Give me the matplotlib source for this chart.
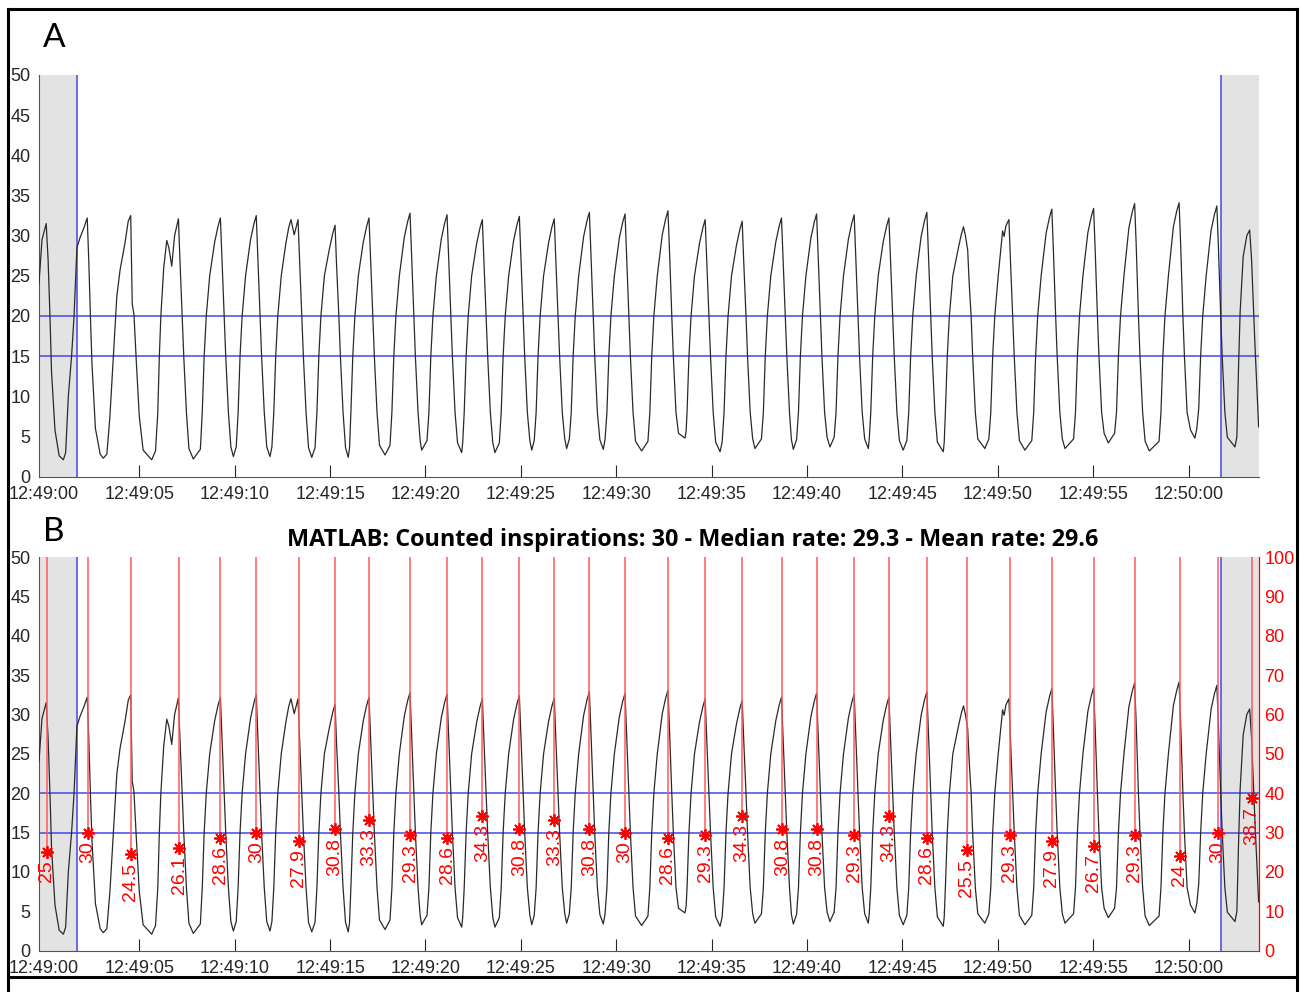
import matplotlib
matplotlib.use("Agg")
import matplotlib.pyplot as plt
from matplotlib.lines import Line2D
from matplotlib.ticker import FuncFormatter

# breathing trace, time in seconds after 12:49:00, one line per breath
trace_t = [
    -0.26, -0.10, 0.12, 0.22, 0.33, 0.40, 0.58, 0.80, 1.02,
    1.14, 1.28, 1.45, 1.58, 1.73, 1.90, 2.10, 2.27, 2.35, 2.45, 2.52, 2.70, 2.95, 3.11,
    3.30, 3.46, 3.64, 3.82, 3.99, 4.25, 4.42, 4.55, 4.63, 4.72, 4.85, 5.00, 5.20, 5.65,
    5.85, 5.97, 6.05, 6.13, 6.28, 6.44, 6.55, 6.70, 6.85, 7.05, 7.13, 7.25, 7.33, 7.47, 7.60, 7.83,
    8.20, 8.30, 8.40, 8.51, 8.69, 8.95, 9.13, 9.25, 9.33, 9.45, 9.53, 9.67, 9.80, 9.93,
    10.08, 10.18, 10.28, 10.39, 10.57, 10.83, 11.01, 11.13, 11.21, 11.33, 11.41, 11.55, 11.68, 11.85,
    11.95, 12.05, 12.15, 12.26, 12.44, 12.68, 12.83, 12.95, 13.12, 13.32, 13.40, 13.52, 13.60, 13.74, 13.87, 14.04,
    14.21, 14.31, 14.41, 14.52, 14.70, 14.96, 15.14, 15.26, 15.34, 15.46, 15.54, 15.68, 15.81, 15.95,
    16.02, 16.09, 16.19, 16.30, 16.48, 16.74, 16.92, 17.04, 17.12, 17.24, 17.32, 17.46, 17.59, 17.88,
    18.14, 18.24, 18.34, 18.45, 18.63, 18.89, 19.07, 19.19, 19.27, 19.39, 19.47, 19.61, 19.72, 19.80,
    20.08, 20.18, 20.28, 20.39, 20.57, 20.83, 21.01, 21.13, 21.21, 21.33, 21.41, 21.55, 21.68, 21.90,
    21.95, 22.03, 22.13, 22.24, 22.42, 22.68, 22.86, 22.98, 23.06, 23.18, 23.26, 23.40, 23.53, 23.64,
    23.87, 23.97, 24.07, 24.18, 24.36, 24.62, 24.80, 24.92, 25.00, 25.12, 25.20, 25.34, 25.47, 25.57,
    25.70, 25.80, 25.90, 26.01, 26.19, 26.45, 26.63, 26.75, 26.83, 26.95, 27.03, 27.17, 27.30, 27.40,
    27.54, 27.64, 27.74, 27.85, 28.03, 28.29, 28.47, 28.59, 28.67, 28.79, 28.87, 29.01, 29.14, 29.32,
    29.41, 29.51, 29.61, 29.72, 29.90, 30.16, 30.34, 30.46, 30.54, 30.66, 30.74, 30.88, 31.01, 31.33,
    31.66, 31.76, 31.86, 31.97, 32.15, 32.41, 32.59, 32.71, 32.79, 32.91, 32.99, 33.13, 33.26, 33.60,
    33.66, 33.71, 33.81, 33.92, 34.10, 34.36, 34.54, 34.66, 34.74, 34.86, 34.94, 35.08, 35.21, 35.44,
    35.55, 35.65, 35.75, 35.86, 36.04, 36.30, 36.48, 36.60, 36.68, 36.80, 36.88, 37.02, 37.15, 37.27,
    37.61, 37.71, 37.81, 37.92, 38.10, 38.36, 38.54, 38.66, 38.74, 38.86, 38.94, 39.08, 39.18, 39.28,
    39.45, 39.55, 39.65, 39.76, 39.94, 40.20, 40.38, 40.50, 40.58, 40.70, 40.78, 40.92, 41.05, 41.20,
    41.42, 41.52, 41.62, 41.73, 41.91, 42.17, 42.35, 42.47, 42.55, 42.67, 42.75, 42.89, 43.02, 43.21,
    43.26, 43.34, 43.44, 43.55, 43.73, 43.99, 44.17, 44.29, 44.37, 44.49, 44.57, 44.71, 44.84, 45.04,
    45.23, 45.33, 45.43, 45.54, 45.72, 45.98, 46.16, 46.28, 46.36, 46.48, 46.56, 46.70, 46.83, 47.14,
    47.19, 47.25, 47.35, 47.46, 47.64, 47.90, 48.08, 48.20, 48.30, 48.42, 48.50, 48.60, 48.68, 48.82, 48.95, 49.32,
    49.53, 49.63, 49.73, 49.84, 50.02, 50.25, 50.33, 50.42, 50.58, 50.66, 50.78, 50.86, 51.00, 51.13, 51.42,
    51.78, 51.88, 51.98, 52.09, 52.27, 52.53, 52.71, 52.83, 52.91, 53.03, 53.11, 53.25, 53.38, 53.52,
    53.97, 54.07, 54.17, 54.28, 54.46, 54.72, 54.90, 55.02, 55.10, 55.22, 55.30, 55.44, 55.57, 55.79,
    56.12, 56.22, 56.32, 56.43, 56.61, 56.87, 57.05, 57.17, 57.25, 57.37, 57.45, 57.59, 57.72, 57.94,
    58.45, 58.55, 58.65, 58.76, 58.94, 59.20, 59.38, 59.50, 59.58, 59.70, 59.78, 59.92, 60.10, 60.33,
    60.43, 60.53, 60.63, 60.74, 60.92, 61.18, 61.36, 61.48, 61.56, 61.68, 61.76, 61.90, 62.03, 62.43,
    62.53, 62.62, 62.70, 62.86, 63.05, 63.20, 63.30, 63.48, 63.67,
]
trace_v = [
    24.0, 29.5, 31.5, 27.0, 19.0, 13.0, 5.8, 2.6, 2.1,
    3.0, 10.0, 15.0, 20.0, 28.5, 29.8, 31.0, 32.2, 27.0, 19.0, 14.0, 6.0, 2.8, 2.3,
    2.8, 7.5, 15.0, 22.4, 25.7, 29.1, 31.8, 32.5, 21.5, 20.2, 14.0, 7.5, 3.3, 2.1,
    3.2, 8.0, 15.0, 20.0, 26.0, 29.4, 28.5, 26.2, 30.0, 32.1, 27.0, 20.0, 15.0, 8.0, 3.5, 2.2,
    3.4, 8.0, 15.0, 20.0, 25.0, 29.2, 31.2, 32.2, 27.2, 20.0, 15.0, 8.0, 3.7, 2.5,
    3.7, 8.0, 15.0, 20.0, 25.0, 29.5, 31.5, 32.5, 27.5, 20.0, 15.0, 8.0, 3.7, 2.5,
    3.7, 8.0, 15.0, 20.0, 25.0, 29.0, 31.0, 32.0, 30.1, 32.0, 27.0, 20.0, 15.0, 8.0, 3.6, 2.4,
    3.6, 8.0, 15.0, 20.0, 25.0, 28.3, 30.3, 31.3, 26.3, 20.0, 15.0, 8.0, 3.6, 2.4,
    3.6, 8.0, 15.0, 20.0, 25.0, 29.2, 31.2, 32.2, 27.2, 20.0, 15.0, 8.0, 3.9, 2.7,
    3.9, 8.0, 15.0, 20.0, 25.0, 29.8, 31.8, 32.8, 27.8, 20.0, 15.0, 8.0, 4.5, 3.3,
    4.5, 8.0, 15.0, 20.0, 25.0, 29.6, 31.6, 32.6, 27.6, 20.0, 15.0, 8.0, 4.2, 3.0,
    4.2, 8.0, 15.0, 20.0, 25.0, 29.0, 31.0, 32.0, 27.0, 20.0, 15.0, 8.0, 4.2, 3.0,
    4.2, 8.0, 15.0, 20.0, 25.0, 29.4, 31.4, 32.4, 27.4, 20.0, 15.0, 8.0, 4.5, 3.3,
    4.5, 8.0, 15.0, 20.0, 25.0, 29.1, 31.1, 32.1, 27.1, 20.0, 15.0, 8.0, 4.7, 3.5,
    4.7, 8.0, 15.0, 20.0, 25.0, 29.9, 31.9, 32.9, 27.9, 20.0, 15.0, 8.0, 4.6, 3.4,
    4.6, 8.0, 15.0, 20.0, 25.0, 29.7, 31.7, 32.7, 27.7, 20.0, 15.0, 8.0, 4.4, 3.2,
    4.4, 8.0, 15.0, 20.0, 25.0, 30.1, 32.1, 33.1, 28.1, 20.0, 15.0, 8.0, 5.4, 4.8,
    5.6, 8.0, 15.0, 20.0, 25.0, 29.0, 31.0, 32.0, 27.0, 20.0, 15.0, 8.0, 4.3, 3.1,
    4.3, 8.0, 15.0, 20.0, 25.0, 28.8, 30.8, 31.8, 26.8, 20.0, 15.0, 8.0, 4.7, 3.5,
    4.7, 8.0, 15.0, 20.0, 25.0, 29.2, 31.2, 32.2, 27.2, 20.0, 15.0, 8.0, 4.6, 3.4,
    4.6, 8.0, 15.0, 20.0, 25.0, 29.7, 31.7, 32.7, 27.7, 20.0, 15.0, 8.0, 4.9, 3.7,
    4.9, 8.0, 15.0, 20.0, 25.0, 29.6, 31.6, 32.6, 27.6, 20.0, 15.0, 8.0, 4.7, 3.5,
    4.7, 8.0, 15.0, 20.0, 25.0, 29.2, 31.2, 32.2, 27.2, 20.0, 15.0, 8.0, 4.5, 3.3,
    4.5, 8.0, 15.0, 20.0, 25.0, 29.9, 31.9, 32.9, 27.9, 20.0, 15.0, 8.0, 4.3, 3.1,
    4.3, 8.0, 15.0, 20.0, 25.0, 28.1, 30.1, 31.1, 30.0, 28.2, 24.0, 20.0, 15.0, 8.0, 4.7, 3.5,
    4.7, 8.0, 15.0, 20.0, 25.0, 30.6, 29.9, 31.2, 32.0, 27.0, 20.0, 15.0, 8.0, 4.5, 3.3,
    4.5, 8.0, 15.0, 20.0, 25.0, 30.3, 32.3, 33.3, 28.3, 20.0, 15.0, 8.0, 4.7, 3.5,
    4.7, 8.0, 15.0, 20.0, 25.0, 30.4, 32.4, 33.4, 28.4, 20.0, 15.0, 8.0, 5.4, 4.2,
    5.4, 8.0, 15.0, 20.0, 25.0, 31.0, 33.0, 34.0, 29.0, 20.0, 15.0, 8.0, 4.4, 3.2,
    4.4, 8.0, 15.0, 20.0, 25.0, 31.1, 33.1, 34.1, 29.1, 20.0, 15.0, 8.0, 5.8, 4.8,
    6.0, 8.5, 15.0, 20.0, 25.0, 30.7, 32.7, 33.7, 28.7, 20.0, 15.0, 8.0, 4.9, 3.7,
    5.0, 14.0, 20.5, 27.4, 30.0, 30.7, 27.0, 16.2, 6.2,
]
assert len(trace_t) == len(trace_v)

# detected inspirations (red lines) and breath-by-breath rate
peak_t = [0.15, 2.30, 4.55, 7.10, 9.25, 11.13, 13.35, 15.26, 17.04, 19.19,
          21.13, 22.98, 24.92, 26.75, 28.59, 30.46, 32.71, 34.66, 36.60, 38.70,
          40.50, 42.47, 44.29, 46.28, 48.38, 50.63, 52.83, 55.02, 57.17, 59.54,
          61.54, 63.31]
rates = [25, 30, 24.5, 26.1, 28.6, 30, 27.9, 30.8, 33.3, 29.3,
         28.6, 34.3, 30.8, 33.3, 30.8, 30, 28.6, 29.3, 34.3, 30.8,
         30.8, 29.3, 34.3, 28.6, 25.5, 29.3, 27.9, 26.7, 29.3, 24,
         30, 38.7]

t_start, t_end = -0.26, 63.67
win_lo, win_hi = 1.73, 61.68
thresholds = [15, 20]
x_ticks = list(range(0, 61, 5))
title_txt = "MATLAB: Counted inspirations: 30 - Median rate: 29.3 - Mean rate: 29.6"

GREY = "#e3e3e3"
BLUE = "#4646e6"
AXC = "#262626"
TICKFONT = ["Liberation Sans", "DejaVu Sans"]


def hms(x, pos=None):
    s = int(round(12 * 3600 + 49 * 60 + x))
    return "%02d:%02d:%02d" % (s // 3600, s // 60 % 60, s % 60)


def draw_panel(ax):
    ax.set_xlim(t_start, t_end)
    ax.set_ylim(0, 50)
    ax.axvspan(t_start, win_lo, color=GREY, lw=0, zorder=1.6)
    ax.axvspan(win_hi, t_end, color=GREY, lw=0, zorder=1.6)
    for y in thresholds:
        ax.axhline(y, color=BLUE, lw=1.1, zorder=2)
    for x in (win_lo, win_hi):
        ax.axvline(x, color=BLUE, lw=1.1, zorder=2)
    ax.plot(trace_t, trace_v, color="#2a2a2a", lw=0.9, zorder=3)

    ax.set_xticks(x_ticks)
    ax.xaxis.set_major_formatter(FuncFormatter(hms))
    ax.set_yticks(range(0, 51, 5))
    ax.tick_params(axis="x", direction="in", length=8.5, width=0.8,
                   color=AXC, labelcolor=AXC, labelsize=13, pad=7)
    ax.tick_params(axis="y", length=0, labelcolor=AXC, labelsize=13, pad=6)
    for lab in ax.get_xticklabels() + ax.get_yticklabels():
        lab.set_family(TICKFONT)
    for side in ("top", "right"):
        ax.spines[side].set_visible(False)
    for side in ("left", "bottom"):
        ax.spines[side].set_color("#555555")
        ax.spines[side].set_linewidth(0.8)


fig = plt.figure(figsize=(13.07, 9.92), dpi=100)

axA = fig.add_axes([0.0298, 0.5195, 0.9332, 0.4049])
draw_panel(axA)

axB = fig.add_axes([0.0298, 0.0416, 0.9332, 0.3969])
draw_panel(axB)

# right axis: breathing rate
axR = axB.twinx()
axR.set_ylim(0, 100)
axR.set_yticks(range(0, 101, 10))
axR.vlines(peak_t, rates, 100, color="#ff5a5a", lw=1.1, zorder=3)
axR.plot(peak_t, rates, linestyle="none", marker=(8, 2, 0), color="red",
         markersize=9, markeredgewidth=1.3, zorder=4)
for t, r in zip(peak_t, rates):
    axR.annotate("%g" % r, (t, r), xytext=(0, -6), textcoords="offset points",
                 rotation=90, rotation_mode="anchor", ha="right", va="center",
                 color="red", fontsize=14, family=TICKFONT, zorder=5)
axR.tick_params(axis="y", length=0, labelcolor="red", labelsize=13, pad=4)
for lab in axR.get_yticklabels():
    lab.set_family(TICKFONT)
for side in ("top", "left", "bottom"):
    axR.spines[side].set_visible(False)
axR.spines["right"].set_color("red")
axR.spines["right"].set_linewidth(0.9)

# panel letters and title
fig.text(54 / 1307, 1 - 38 / 992, "A", fontsize=24, family=["Lato", "DejaVu Sans"],
         ha="center", va="center")
fig.text(54 / 1307, 1 - 532 / 992, "B", fontsize=24, family=["Lato", "DejaVu Sans"],
         ha="center", va="center")
fig.text(693 / 1307, 1 - 540 / 992, title_txt, fontsize=16.8, fontweight="bold",
         family=["Open Sans", "DejaVu Sans"], ha="center", va="center")

# outer frame of the composite figure
x0, x1, ytop, ysep = 7.5 / 1307, 1297 / 1307, 1 - 9 / 992, 1 - 977 / 992
for xs, ys in (([x0, x0], [0, ytop]), ([x1, x1], [0, ytop]),
               ([x0, x1], [ytop, ytop]), ([x0, x1], [ysep, ysep])):
    fig.add_artist(Line2D(xs, ys, transform=fig.transFigure, color="black", lw=2.2))

fig.savefig("out.png", dpi=100)
